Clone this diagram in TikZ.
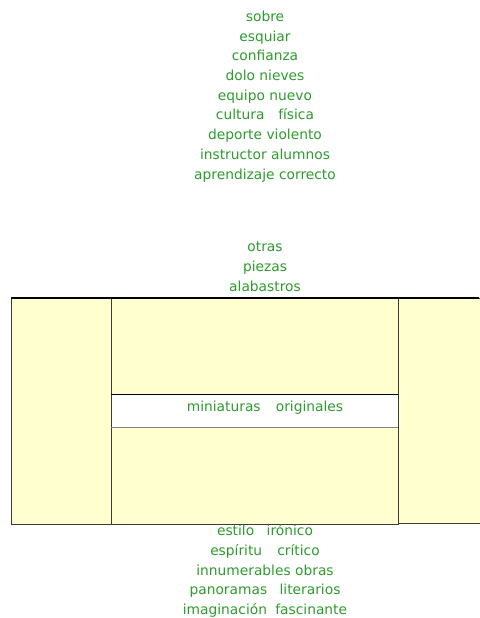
\documentclass[tikz,border=0pt]{standalone}
\usepackage{fontspec}
\setmainfont{DejaVu Sans}
\definecolor{txtgreen}{RGB}{45,155,45}
\definecolor{boxfill}{RGB}{255,255,208}
\definecolor{edge}{RGB}{60,60,50}
\begin{document}
\begin{tikzpicture}[x=1pt,y=-1pt,
  lbl/.style={text=txtgreen,font=\fontsize{13.8}{16}\selectfont,inner sep=0pt,anchor=center,text height=14pt,text depth=3pt},
  panel/.style={draw=edge,fill=boxfill,line width=1pt}]
\useasboundingbox (0,0) rectangle (479,618);
% panels
\filldraw[panel] (11,298) rectangle (111,524);
\filldraw[panel] (111,298) rectangle (398,524);
\filldraw[panel] (398,298) rectangle (482,523);
\draw[black,line width=1.2pt] (11,298) -- (479,298);
\fill[white] (111.5,394) rectangle (397.5,427);
\draw[black,line width=1pt] (111,394) -- (398,394);
\draw[gray,line width=1pt] (111,427) -- (398,427);
% top text
\node[lbl] (t1) at (265,16) {sobre};
\node[lbl] (t2) at (265,36) {esquiar};
\node[lbl] (t3) at (265,55) {confianza};
\node[lbl] (t4) at (265,75) {dolo nieves};
\node[lbl] (t5) at (265,95) {equipo nuevo};
\node[lbl] (t6) at (265,114) {cultura\hspace{1em}física};
\node[lbl] (t7) at (265,134) {deporte violento};
\node[lbl] (t8) at (265,154) {instructor alumnos};
\node[lbl] (t9) at (265,174) {aprendizaje correcto};
% middle text
\node[lbl] (m1) at (265,246) {otras};
\node[lbl] (m2) at (265,266) {piezas};
\node[lbl] (m3) at (265,286) {alabastros};
\node[lbl] (mi) at (265,406) {miniaturas\hspace{1.1em}originales};
% bottom text
\node[lbl] (b1) at (265,530) {estilo\hspace{0.9em}irónico};
\node[lbl] (b2) at (265,550) {espíritu\hspace{1.1em}crítico};
\node[lbl] (b3) at (265,570) {innumerables obras};
\node[lbl] (b4) at (265,589) {panoramas\hspace{0.9em}literarios};
\node[lbl] (b5) at (265,609) {imaginación\hspace{0.6em}fascinante};
\end{tikzpicture}
\end{document}
